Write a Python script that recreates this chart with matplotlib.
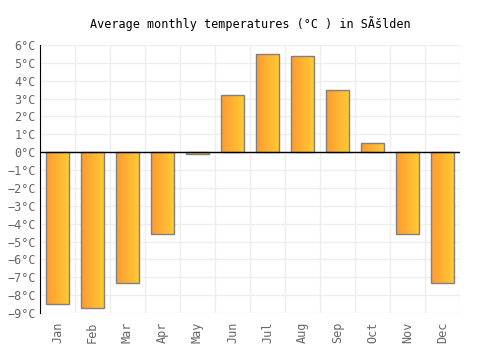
import matplotlib
matplotlib.use("Agg")
import matplotlib.pyplot as plt
import numpy as np

months = ["Jan", "Feb", "Mar", "Apr", "May", "Jun", "Jul", "Aug", "Sep", "Oct", "Nov", "Dec"]
temps = [-8.5, -8.7, -7.3, -4.6, -0.1, 3.2, 5.5, 5.4, 3.5, 0.5, -4.6, -7.3]
yticks = list(range(-9, 7))

plt.rcParams['font.family'] = ['DejaVu Sans Mono']

fig = plt.figure(figsize=(5, 3.5), dpi=100)
ax = fig.add_axes([0.08, 0.1057, 0.84, 0.7657])

x = np.arange(len(months))
bars = ax.bar(x, temps, width=0.66, facecolor='none', edgecolor='#808080',
              linewidth=1, zorder=3)

# horizontal gradient (orange -> yellow) clipped to each bar
grad = np.linspace(0, 1, 64).reshape(1, -1)
cmap = matplotlib.colors.LinearSegmentedColormap.from_list("og", ["#ff9a30", "#ffcc33"])
for b in bars:
    x0, y0 = b.get_x(), b.get_y()
    w, h = b.get_width(), b.get_height()
    im = ax.imshow(grad, cmap=cmap, aspect='auto', zorder=2,
                   extent=[x0, x0 + w, y0, y0 + h], interpolation='bilinear')
    im.set_clip_path(b)

ax.set_xlim(-0.5, len(months) - 0.5)
ax.set_ylim(-9, 6)
ax.set_yticks(yticks)
ax.set_yticklabels([f"{t}°C".replace("-", "\u2212") for t in yticks])
ax.set_xticks(x)
ax.set_xticklabels(months, rotation=90)
ax.set_xticks(np.arange(-0.5, len(months), 1), minor=True)

ax.grid(True, which='major', axis='y', color='#eeeeee', linewidth=1, zorder=0)
ax.grid(True, which='minor', axis='x', color='#eeeeee', linewidth=1, zorder=0)
ax.tick_params(axis='both', which='both', length=0, colors='#666666', labelsize=8.5)
ax.tick_params(axis='y', pad=3)
ax.tick_params(axis='x', pad=6)

for s in ['top', 'right', 'bottom']:
    ax.spines[s].set_visible(False)
ax.spines['left'].set_color('black')
ax.axhline(0, color='black', linewidth=1, zorder=4)

fig.suptitle("Average monthly temperatures (°C ) in SÃšlden", y=0.955, fontsize=8.5)

fig.savefig("out.png", dpi=100)
